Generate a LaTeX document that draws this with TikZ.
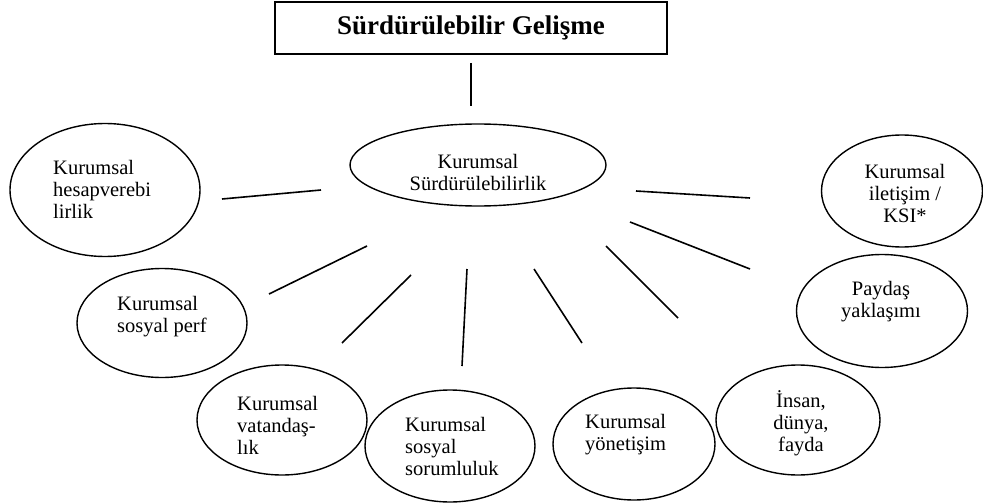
\documentclass[tikz,border=0pt]{standalone}
\usepackage{fontspec}
\setmainfont{Liberation Serif}
\usetikzlibrary{shapes.geometric}
\begin{document}
\begin{tikzpicture}[x=1pt,y=-1pt,
  oval/.style={ellipse, draw, line width=1.4pt, inner sep=0pt},
  lbl/.style={font=\fontsize{20.5}{22}\selectfont, inner sep=0pt},
  link/.style={line width=1.6pt}]
\useasboundingbox (0,0) rectangle (983,503);
% title
\node[draw, line width=1.6pt, minimum width=392pt, minimum height=52pt, inner sep=0pt,
      font=\fontsize{27}{30}\selectfont\bfseries] (top) at (471,28) {Sürdürülebilir Gelişme};
% ellipses
\node[oval, minimum width=256pt, minimum height=82pt] (ks) at (478,165) {};
\node[oval, minimum width=190pt, minimum height=133pt] (e1) at (105,190) {};
\node[oval, minimum width=161pt, minimum height=112pt] (e2) at (902,191) {};
\node[oval, minimum width=171pt, minimum height=113pt] (e3) at (882,311) {};
\node[oval, minimum width=164pt, minimum height=110pt] (e4) at (798,420) {};
\node[oval, minimum width=162pt, minimum height=112pt] (e5) at (634,444) {};
\node[oval, minimum width=170pt, minimum height=112pt] (e6) at (450,446) {};
\node[oval, minimum width=170pt, minimum height=110pt] (e7) at (282,420) {};
\node[oval, minimum width=170pt, minimum height=109pt] (e8) at (162,323) {};
% texts
\node[lbl, align=center] (tks) at (478,172) {Kurumsal\\Sürdürülebilirlik};
\node[lbl, align=left, anchor=west] (t1) at (53,189) {Kurumsal\\hesapverebi\\lirlik};
\node[lbl, align=center] (t2) at (905,193) {Kurumsal\\iletişim /\\KSI*};
\node[lbl, align=center] (t3) at (881,302) {Paydaş\\yaklaşımı};
\node[lbl, align=center] (t4) at (801,423) {İnsan,\\dünya,\\fayda};
\node[lbl, align=left, anchor=west] (t5) at (585,435) {Kurumsal\\yönetişim};
\node[lbl, align=left, anchor=west] (t6) at (405,446) {Kurumsal\\sosyal\\sorumluluk};
\node[lbl, align=left, anchor=west] (t7) at (237,425) {Kurumsal\\vatandaş-\\lık};
\node[lbl, align=left, anchor=west] (t8) at (117,317) {Kurumsal\\sosyal perf};
% free-standing line ends
\coordinate (v1) at (471,63);  \coordinate (v2) at (471,106);
\coordinate (a1) at (222,199); \coordinate (a2) at (321,190);
\coordinate (b1) at (269,294); \coordinate (b2) at (367,246);
\coordinate (c1) at (342,343); \coordinate (c2) at (411,275);
\coordinate (d1) at (462,366); \coordinate (d2) at (467,269);
\coordinate (f1) at (534,269); \coordinate (f2) at (582,343);
\coordinate (g1) at (606,246); \coordinate (g2) at (678,318);
\coordinate (h1) at (630,222); \coordinate (h2) at (750,269);
\coordinate (i1) at (636,191); \coordinate (i2) at (750,198);
\draw[link] (v1) -- (v2);
\draw[link] (a1) -- (a2);
\draw[link] (b1) -- (b2);
\draw[link] (c1) -- (c2);
\draw[link] (d1) -- (d2);
\draw[link] (f1) -- (f2);
\draw[link] (g1) -- (g2);
\draw[link] (h1) -- (h2);
\draw[link] (i1) -- (i2);
\end{tikzpicture}
\end{document}
